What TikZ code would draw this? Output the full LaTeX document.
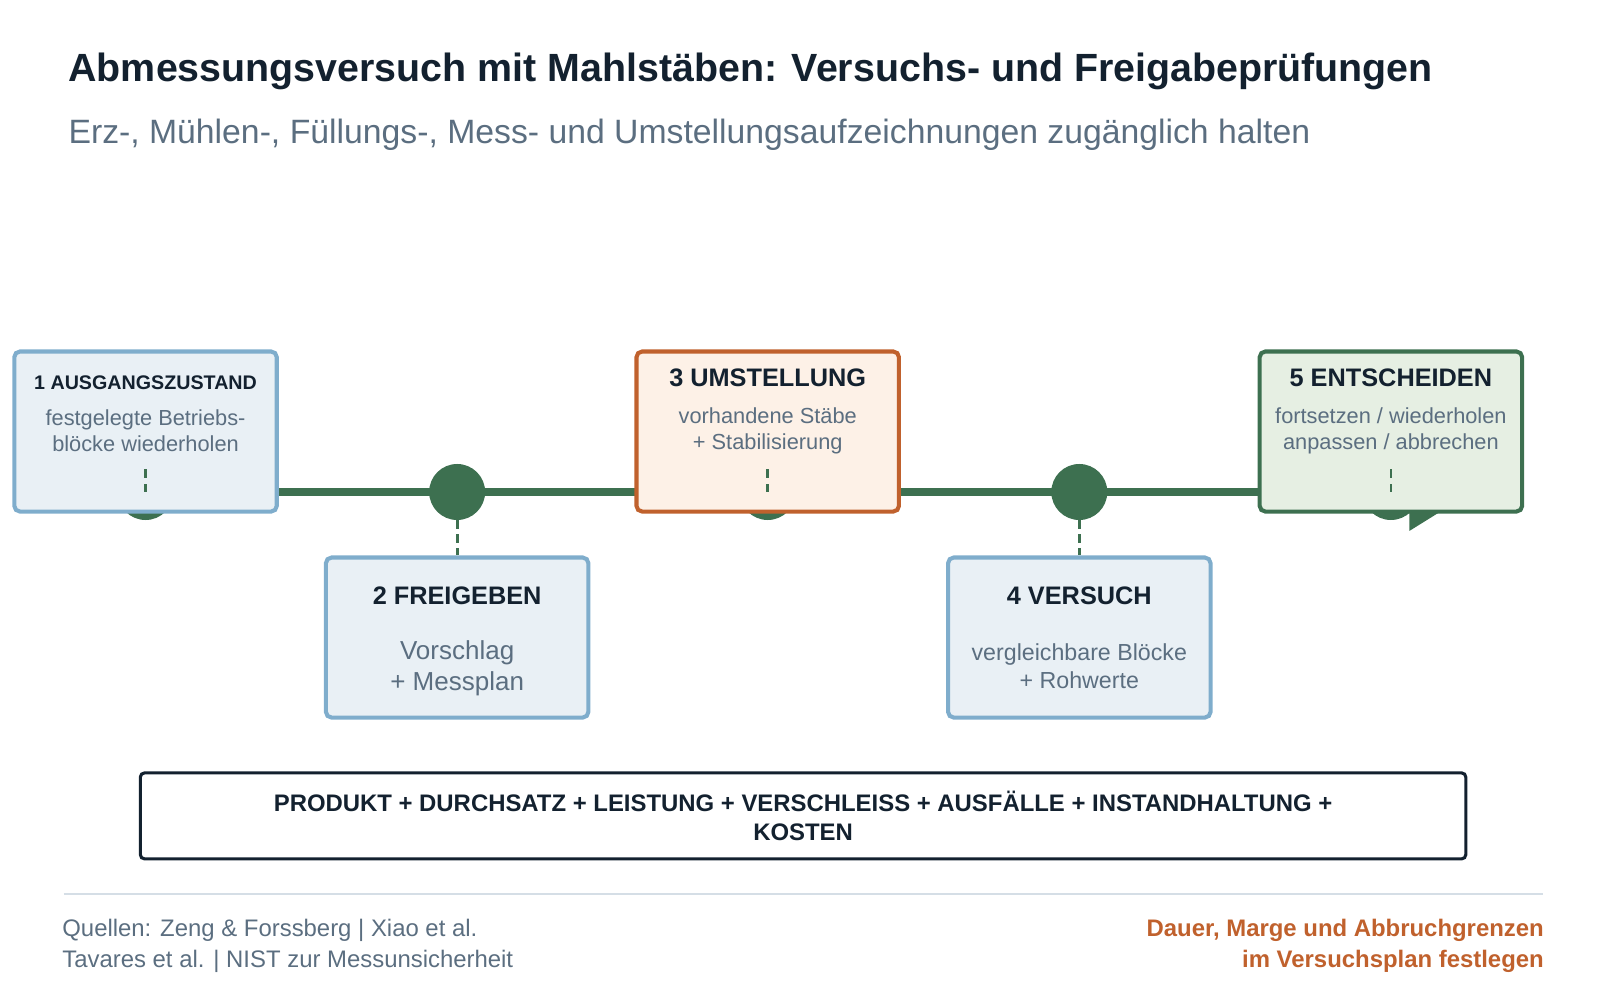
\documentclass[tikz,border=0pt]{standalone}
\usepackage{fontspec}
\setmainfont{Liberation Sans}
\usetikzlibrary{positioning}
\definecolor{leaf}{HTML}{3D7050}
\definecolor{ink}{HTML}{13212F}
\definecolor{slate}{HTML}{5B6E80}
\definecolor{skyline}{HTML}{7FADCC}
\definecolor{skyfill}{HTML}{E9F0F5}
\definecolor{rust}{HTML}{C0612D}
\definecolor{rustfill}{HTML}{FDF1E7}
\definecolor{leaffill}{HTML}{E6EFE3}
\definecolor{rule}{HTML}{D5DEE6}

\tikzset{
  stage/.style={draw=skyline,fill=skyfill,line width=2.9pt,rounded corners=4pt,
    minimum width=6.56cm,minimum height=4cm,inner sep=0pt},
  stop/.style={circle,fill=leaf,minimum size=1.4cm,inner sep=0pt},
  head/.style={font=\bfseries\fontsize{18}{21}\selectfont,text=ink},
  body/.style={font=\fontsize{15.5}{18.5}\selectfont,text=slate,align=center},
  tie/.style={leaf,line width=2pt,dash pattern=on 6pt off 4pt}
}

\begin{document}
\begin{tikzpicture}[x=0.025625cm,y=-0.025625cm]
\useasboundingbox (0,0) rectangle (1561,976);

%% title
\node[anchor=base west,font=\bfseries\fontsize{28}{32}\selectfont,text=ink] (title) at (62,80)
  {Abmessungsversuch mit Mahlstäben: Versuchs- und Freigabeprüfungen};
\node[anchor=base west,font=\fontsize{24}{28}\selectfont,text=slate] (subtitle) at (62,140)
  {Erz-, Mühlen-, Füllungs-, Mess- und Umstellungsaufzeichnungen zugänglich halten};

%% timeline and stops
\coordinate (lineL) at (142,480);
\coordinate (lineR) at (1357,480);
\draw[leaf,line width=5.8pt] (lineL) -- (lineR);
\foreach \i/\x in {1/142,2/446,3/749,4/1053,5/1357}
  \node[stop] (s\i) at (\x,480) {};

%% stage boxes
\node[stage] (b1) at (142,421) {};
\node[stage] (b2) at (446,622) {};
\node[stage,draw=rust,fill=rustfill] (b3) at (749,421) {};
\node[stage] (b4) at (1053,622) {};
\fill[leaf] (1375,495) -- (1412,495) -- (1375,518) -- cycle;
\node[stage,draw=leaf,fill=leaffill] (b5) at (1357,421) {};

%% box texts
\node[head,font=\bfseries\fontsize{14}{17}\selectfont] (h1) at (142,373) {1 AUSGANGSZUSTAND};
\node[body] (t1) at (142,420) {festgelegte Betriebs-\\blöcke wiederholen};
\node[head] (h2) at (446,581) {2 FREIGEBEN};
\node[body,font=\fontsize{18.5}{22}\selectfont] (t2) at (446,652) {Vorschlag\\+ Messplan};
\node[head] (h3) at (749,369) {3 UMSTELLUNG};
\node[body] (t3) at (749,420) {vorhandene Stäbe\\+ Stabilisierung};
\node[head] (h4) at (1053,581) {4 VERSUCH};
\node[body,font=\fontsize{16.5}{20}\selectfont] (t4) at (1053,650) {vergleichbare Blöcke\\+ Rohwerte};
\node[head] (h5) at (1357,369) {5 ENTSCHEIDEN};
\node[body] (t5) at (1357,420) {fortsetzen / wiederholen\\anpassen / abbrechen};

%% dashed ties
\coordinate (d1) at (142,455);
\coordinate (d3) at (749,455);
\coordinate (d5) at (1357,455);
\draw[tie] (s1.center) -- (d1);
\draw[tie] (s3.center) -- (d3);
\draw[tie] (s5.center) -- (d5);
\draw[tie] (s2.south) -- (b2.north);
\draw[tie] (s4.south) -- (b4.north);

%% summary
\node[draw=ink,line width=2.2pt,rounded corners=3pt,minimum width=33.13cm,minimum height=2.15cm,
  align=center,font=\bfseries\fontsize{17}{20.5}\selectfont,text=ink] (sum) at (783.5,796)
  {PRODUKT + DURCHSATZ + LEISTUNG + VERSCHLEISS + AUSFÄLLE + INSTANDHALTUNG +\\KOSTEN};

%% footer
\coordinate (ruleL) at (62,872);
\coordinate (ruleR) at (1505,872);
\draw[rule,line width=1.5pt] (ruleL) -- (ruleR);
\node[anchor=north west,align=left,font=\fontsize{17}{22}\selectfont,text=slate] (src) at (56,892)
  {Quellen: Zeng \& Forssberg | Xiao et al.\\Tavares et al. | NIST zur Messunsicherheit};
\node[anchor=north east,align=right,font=\bfseries\fontsize{17}{22}\selectfont,text=rust] (note) at (1511,892)
  {Dauer, Marge und Abbruchgrenzen\\im Versuchsplan festlegen};
\end{tikzpicture}
\end{document}
